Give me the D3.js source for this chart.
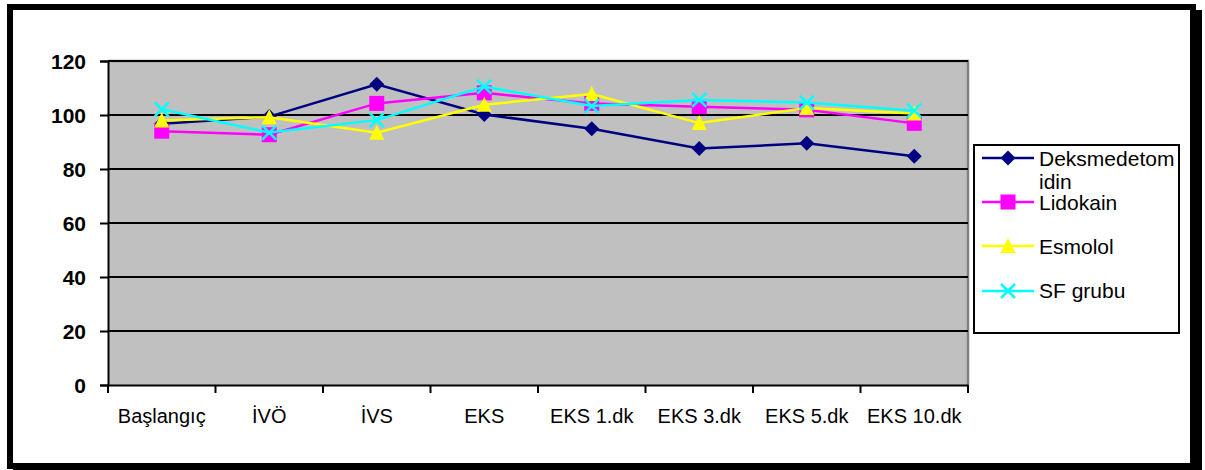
<!DOCTYPE html>
<html>
<head>
<meta charset="utf-8">
<script src="https://cdn.jsdelivr.net/npm/d3@7"></script>
<style>
html,body{margin:0;padding:0;background:#fff;}
svg{display:block;}
text{font-family:Arial,"Liberation Sans",sans-serif;}
</style>
</head>
<body>
<svg id="chart" width="1205" height="470"></svg>
<script>
const categories = ["Başlangıç","İVÖ","İVS","EKS","EKS 1.dk","EKS 3.dk","EKS 5.dk","EKS 10.dk"];
const seriesNames = ["Deksmedetomidin","Lidokain","Esmolol","SF grubu"];
const deksmedetomidin = [96.8, 99.4, 111.4, 100.2, 94.9, 87.6, 89.5, 84.7];
const lidokain = [94.0, 92.7, 104.3, 108.2, 104.3, 103.1, 101.9, 96.9];
const esmolol = [98.0, 99.2, 93.4, 103.8, 107.8, 97.0, 102.6, 100.6];
const sfGrubu = [102.1, 93.5, 98.1, 110.5, 103.3, 105.6, 104.6, 101.6];
const yTicks = [0, 20, 40, 60, 80, 100, 120];

const svg = d3.select("#chart");
const plot = {left:108, right:968, top:61, bottom:385};

// outer frame with shadow
svg.append("rect").attr("x",1193).attr("y",10).attr("width",9).attr("height",465).attr("fill","#000");
svg.append("rect").attr("x",13).attr("y",466).attr("width",1189).attr("height",9).attr("fill","#000");
svg.append("rect").attr("x",10).attr("y",7).attr("width",1183).attr("height",459)
  .attr("fill","#fff").attr("stroke","#000").attr("stroke-width",6);

const x = d3.scaleBand().domain(categories).range([plot.left, plot.right]);
const y = d3.scaleLinear().domain([0,120]).range([plot.bottom, plot.top]);

// plot area
svg.append("rect").attr("x",plot.left).attr("y",plot.top)
  .attr("width",plot.right-plot.left).attr("height",plot.bottom-plot.top).attr("fill","#C0C0C0");
svg.append("path").attr("d",`M${plot.left},${plot.top}H${plot.right}V${plot.bottom}`)
  .attr("fill","none").attr("stroke","#808080").attr("stroke-width",2.5);

// gridlines
svg.append("g").selectAll("line").data(yTicks.filter(d=>d>0)).join("line")
  .attr("x1",plot.left).attr("x2",plot.right)
  .attr("y1",d=>y(d)).attr("y2",d=>y(d))
  .attr("stroke","#000").attr("stroke-width",2);

// y axis
const yAxis = d3.axisLeft(y).tickValues(yTicks).tickSize(8).tickPadding(14);
const gy = svg.append("g").attr("transform",`translate(${plot.left},0)`).call(yAxis);
gy.select(".domain").attr("stroke","#000").attr("stroke-width",2);
gy.selectAll(".tick line").attr("stroke","#000").attr("stroke-width",2);
gy.selectAll(".tick text").attr("font-size","21px").attr("font-weight","bold")
  .attr("fill","#000").attr("font-family","Arial,'Liberation Sans',sans-serif").attr("dy","0.36em");

// x axis
const xAxis = d3.axisBottom(x).tickSize(0).tickPadding(24);
const gx = svg.append("g").attr("transform",`translate(0,${plot.bottom})`).call(xAxis);
gx.select(".domain").attr("stroke","#000").attr("stroke-width",2);
gx.selectAll(".tick text").attr("font-size","20px").attr("fill","#000")
  .attr("font-family","Arial,'Liberation Sans',sans-serif");
// band boundary tick marks
const bounds = categories.map(c=>x(c)).concat([plot.right]);
gx.append("g").selectAll("line").data(bounds).join("line")
  .attr("x1",d=>d).attr("x2",d=>d).attr("y1",0).attr("y2",8)
  .attr("stroke","#000").attr("stroke-width",2);

const colors = ["#000080","#FF00FF","#FFFF00","#00FFFF"];
const data = [deksmedetomidin, lidokain, esmolol, sfGrubu];
const shapes = ["diamond","square","triangle","x"];

function drawMarker(g, shape, color, cx, cy){
  if(shape==="diamond"){
    g.append("path").attr("d",`M${cx},${cy-7.5}L${cx+7.5},${cy}L${cx},${cy+7.5}L${cx-7.5},${cy}Z`).attr("fill",color);
  } else if(shape==="square"){
    g.append("rect").attr("x",cx-7.5).attr("y",cy-7.5).attr("width",15).attr("height",15).attr("fill",color);
  } else if(shape==="triangle"){
    g.append("path").attr("d",`M${cx},${cy-8}L${cx+7.5},${cy+7}L${cx-7.5},${cy+7}Z`).attr("fill",color);
  } else {
    g.append("path").attr("d",`M${cx-7},${cy-7}L${cx+7},${cy+7}M${cx+7},${cy-7}L${cx-7},${cy+7}`)
      .attr("stroke",color).attr("stroke-width",2.5).attr("fill","none");
  }
}

const line = d3.line().x((d,i)=>x(categories[i])+x.bandwidth()/2).y(d=>y(d));
data.forEach((vals,si)=>{
  const g = svg.append("g");
  g.append("path").datum(vals).attr("d",line).attr("fill","none")
    .attr("stroke",colors[si]).attr("stroke-width",2.5);
  vals.forEach((v,i)=>drawMarker(g, shapes[si], colors[si], x(categories[i])+x.bandwidth()/2, y(v)));
});

// legend
const lg = svg.append("g");
lg.append("rect").attr("x",974).attr("y",145).attr("width",205).attr("height",188)
  .attr("fill","#fff").attr("stroke","#000").attr("stroke-width",2);
const legendItems = [
  {lines:["Deksmedetom","idin"], ly:158, ty:166},
  {lines:["Lidokain"], ly:202, ty:210},
  {lines:["Esmolol"], ly:246, ty:254},
  {lines:["SF grubu"], ly:291, ty:298}
];
legendItems.forEach((it,si)=>{
  lg.append("line").attr("x1",982).attr("x2",1034).attr("y1",it.ly).attr("y2",it.ly)
    .attr("stroke",colors[si]).attr("stroke-width",2.5);
  drawMarker(lg, shapes[si], colors[si], 1008, it.ly);
  it.lines.forEach((t,k)=>{
    lg.append("text").attr("x",1039).attr("y",it.ty + k*23).attr("font-size","21px").attr("fill","#000").text(t);
  });
});
</script>
</body>
</html>
